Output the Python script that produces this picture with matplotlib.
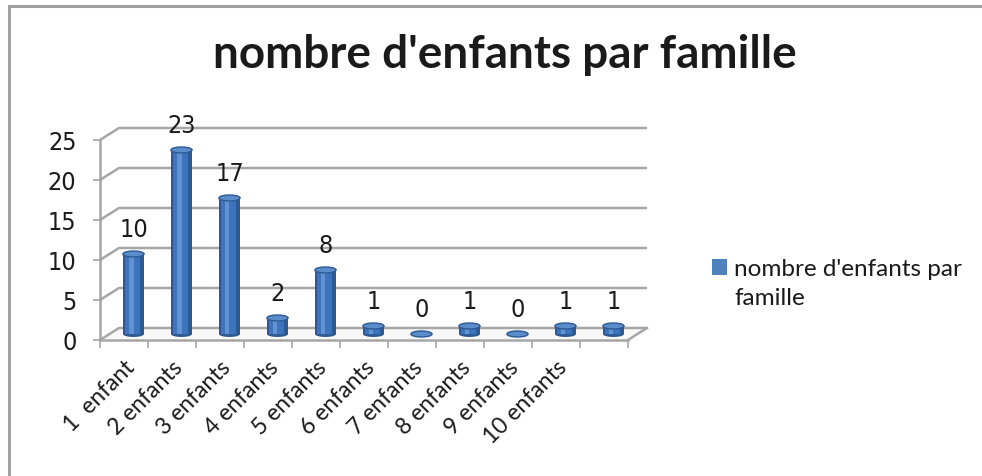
import matplotlib
matplotlib.use("Agg")
import matplotlib.pyplot as plt
from matplotlib import patches, font_manager
from matplotlib.patches import Patch
from matplotlib.font_manager import FontProperties

categories = ["1  enfant", "2 enfants", "3 enfants", "4 enfants", "5 enfants",
              "6 enfants", "7 enfants", "8 enfants", "9 enfants", "10 enfants", ""]
values = [10, 23, 17, 2, 8, 1, 0, 1, 0, 1, 1]
yticks = [0, 5, 10, 15, 20, 25]
title = "nombre d'enfants par famille"
series_name = "nombre d'enfants par\nfamille"

avail = {f.name for f in font_manager.fontManager.ttflist}
main_font = "Lato" if "Lato" in avail else "DejaVu Sans"

# look for a condensed / narrow sans face for the numbers
narrow_file = None
for pref in ["Liberation Sans Narrow", "DejaVu Sans", "Roboto", "Open Sans", "Noto Sans"]:
    for f in font_manager.fontManager.ttflist:
        if f.name.startswith(pref) and f.weight in (400, "normal", "regular") and \
                f.style == "normal" and (("Narrow" in f.name) or ("Condensed" in f.name)
                                         or f.stretch in ("condensed", "semi-condensed")):
            narrow_file = f.fname
            break
    if narrow_file:
        break


def num_font(size):
    if narrow_file:
        return FontProperties(fname=narrow_file, size=size)
    return FontProperties(family="Liberation Sans", size=size)


W, H = 982, 476
fig = plt.figure(figsize=(W / 100, H / 100), dpi=100)
fig.patch.set_facecolor("white")

# outer chart border (left & top visible)
fig.add_artist(plt.Line2D([9 / W, 9 / W], [0, 1 - 6 / H], color="#a0a0a0", lw=2.2,
                          transform=fig.transFigure))
fig.add_artist(plt.Line2D([9 / W, 1], [1 - 6 / H, 1 - 6 / H], color="#a0a0a0", lw=2.2,
                          transform=fig.transFigure))

left_px, right_px, top_px, bot_px = 100, 628, 140, 340
ax = fig.add_axes([left_px / W, 1 - bot_px / H, (right_px - left_px) / W, (bot_px - top_px) / H])
n = len(values)
ax.set_xlim(-0.5, n - 0.5)
ax.set_ylim(0, 25)
ax.patch.set_alpha(0)

# depth offset (pixels -> data units)
px_per_cat = (right_px - left_px) / n
px_per_unit = (bot_px - top_px) / 25
depth_x_px, depth_y_px = 19, 12
dx = depth_x_px / px_per_cat
dy = depth_y_px / px_per_unit

grid_col = "#a6a6a6"
for yv in yticks:
    ax.plot([-0.5, -0.5 + dx, n - 0.5 + dx], [yv, yv + dy, yv + dy], color=grid_col,
            lw=1.8, clip_on=False, zorder=1, solid_capstyle="butt")
ax.plot([n - 0.5, n - 0.5 + dx], [0, dy], color=grid_col, lw=1.8, clip_on=False, zorder=1)
ax.fill([-0.5, n - 0.5, n - 0.5 + dx, -0.5 + dx], [0, 0, dy, dy], color="#f8f8f8",
        clip_on=False, zorder=0.5)

# cylinders
bw = 0.44
ell_h = 6 / px_per_unit
cx = [i + dx / 2 for i in range(n)]
base = dy / 2
dark, mid, light = "#2d5a94", "#3e74bb", "#6a9bd6"
for x, v in zip(cx, values):
    ax.add_patch(patches.Ellipse((x, base), bw, ell_h, facecolor=dark, edgecolor="none",
                                 zorder=3, clip_on=False))
    if v > 0:
        ax.add_patch(patches.Rectangle((x - bw / 2, base), bw, v, facecolor=dark,
                                       edgecolor="none", zorder=3, clip_on=False))
        ax.add_patch(patches.Rectangle((x - bw * 0.38, base), bw * 0.7, v, facecolor=mid,
                                       edgecolor="none", zorder=3.1, clip_on=False))
        ax.add_patch(patches.Rectangle((x - bw * 0.22, base), bw * 0.22, v, facecolor=light,
                                       edgecolor="none", zorder=3.2, clip_on=False, alpha=0.8))
    ax.add_patch(patches.Ellipse((x, base + v), bw, ell_h, facecolor="#5a8ccc",
                                 edgecolor=dark, lw=1.0, zorder=3.5, clip_on=False))

# data labels
for i, v in enumerate(values):
    ax.annotate(str(v), xy=(i, v), xytext=(depth_x_px / 2, 30), textcoords="offset pixels",
                ha="center", va="center", fontproperties=num_font(18), color="#1a1a1a",
                zorder=5)

# axes styling
for s in ["top", "right"]:
    ax.spines[s].set_visible(False)
ax.spines["left"].set_color(grid_col)
ax.spines["left"].set_linewidth(1.8)
ax.spines["bottom"].set_color(grid_col)
ax.spines["bottom"].set_linewidth(1.8)
ax.set_yticks(yticks)
ax.set_yticklabels([str(t) for t in yticks], color="#1a1a1a")
for lab in ax.get_yticklabels():
    lab.set_fontproperties(num_font(18))
ax.tick_params(axis="y", length=5, width=1.2, color=grid_col, pad=12)
ax.set_xticks(range(n))
ax.set_xticklabels(categories, rotation=45, ha="right", rotation_mode="anchor",
                   fontsize=16.5, family=main_font, color="#1a1a1a")
ax.tick_params(axis="x", which="major", length=0, pad=12)
ax.set_xticks([i - 0.5 for i in range(n + 1)], minor=True)
ax.tick_params(axis="x", which="minor", length=6, width=1.2, color=grid_col, direction="out")

fig.text(0.514, 1 - 55 / H, title, ha="center", va="center", fontsize=33,
         fontweight="bold", family=main_font, color="#1a1a1a")

leg = fig.legend(handles=[Patch(facecolor="#4f81bd", edgecolor="none")], labels=[series_name],
                 loc="upper left", bbox_to_anchor=(712 / W, 1 - 259 / H), frameon=False,
                 prop={"family": main_font, "size": 17.5}, handlelength=0.62, handleheight=0.62,
                 handletextpad=0.3, borderaxespad=0, borderpad=0)
for t in leg.get_texts():
    t.set_linespacing(1.45)
    t.set_color("#1a1a1a")
try:
    for col in leg._legend_handle_box.get_children():
        for row in col.get_children():
            row.align = "top"
except Exception:
    pass

fig.savefig("out.png", dpi=100, facecolor="white")
